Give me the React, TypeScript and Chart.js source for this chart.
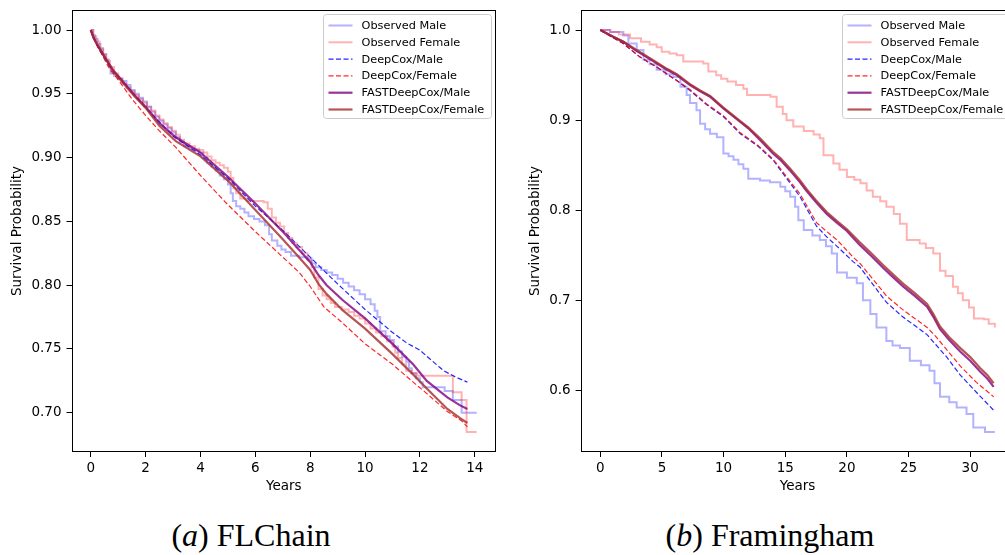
import React, { useEffect, useRef } from "react";
import { Chart, registerables } from "chart.js";

Chart.register(...registerables);

// ---------------- FLChain (panel a) ----------------
const flcObsMaleT = [0, 0.08, 0.16, 0.25, 0.35, 0.45, 0.55, 0.65, 0.72, 0.85, 1.0, 1.15, 1.3, 1.45, 1.6, 1.75, 1.9, 2.05, 2.2, 2.35, 2.5, 2.65, 2.8, 2.95, 3.1, 3.25, 3.4, 3.6, 3.8, 3.95, 4.1, 4.25, 4.4, 4.55, 4.7, 4.85, 5.0, 5.1, 5.18, 5.3, 5.45, 5.6, 5.75, 5.95, 6.15, 6.35, 6.5, 6.6, 6.8, 6.95, 7.1, 7.3, 7.6, 7.9, 8.05, 8.2, 8.4, 8.6, 8.8, 9.0, 9.2, 9.4, 9.6, 9.8, 10.0, 10.2, 10.35, 10.45, 10.55, 10.75, 10.9, 11.05, 11.2, 11.35, 11.5, 11.6, 11.7, 11.85, 12.0, 12.1, 12.9, 13.2, 13.52, 14.07];
const flcObsMaleS = [1, 0.996, 0.993, 0.989, 0.985, 0.981, 0.977, 0.972, 0.966, 0.964, 0.962, 0.96, 0.957, 0.953, 0.95, 0.947, 0.944, 0.94, 0.936, 0.932, 0.929, 0.926, 0.923, 0.92, 0.916, 0.912, 0.909, 0.907, 0.906, 0.904, 0.9, 0.896, 0.893, 0.89, 0.886, 0.883, 0.879, 0.872, 0.866, 0.862, 0.86, 0.857, 0.854, 0.852, 0.85, 0.847, 0.84, 0.835, 0.831, 0.828, 0.826, 0.823, 0.822, 0.821, 0.817, 0.814, 0.812, 0.81, 0.808, 0.805, 0.802, 0.799, 0.796, 0.793, 0.789, 0.785, 0.78, 0.775, 0.764, 0.76, 0.757, 0.752, 0.748, 0.744, 0.74, 0.735, 0.731, 0.727, 0.724, 0.72, 0.717, 0.71, 0.7, 0.7];

const flcObsFemT = [0, 0.1, 0.2, 0.32, 0.45, 0.57, 0.7, 0.85, 1.0, 1.15, 1.3, 1.45, 1.6, 1.75, 1.9, 2.05, 2.2, 2.35, 2.5, 2.65, 2.8, 2.95, 3.1, 3.25, 3.4, 3.6, 3.8, 3.95, 4.1, 4.25, 4.4, 4.55, 4.7, 4.85, 5.0, 5.1, 5.2, 5.3, 5.45, 5.7, 6.3, 6.45, 6.6, 6.75, 6.9, 7.05, 7.2, 7.35, 7.5, 7.7, 7.9, 8.05, 8.15, 8.3, 8.45, 8.6, 8.75, 8.9, 9.15, 9.4, 9.6, 9.8, 10.0, 10.2, 10.4, 10.6, 10.8, 11.0, 11.1, 11.2, 11.35, 11.5, 11.7, 11.9, 13.2, 13.52, 13.7, 14.07];
const flcObsFemS = [1, 0.995, 0.991, 0.986, 0.981, 0.976, 0.971, 0.966, 0.962, 0.958, 0.955, 0.952, 0.949, 0.946, 0.943, 0.94, 0.937, 0.933, 0.93, 0.927, 0.924, 0.921, 0.918, 0.914, 0.911, 0.909, 0.907, 0.906, 0.904, 0.901, 0.898, 0.896, 0.894, 0.892, 0.889, 0.884, 0.876, 0.872, 0.868, 0.866, 0.865, 0.86, 0.853, 0.849, 0.846, 0.841, 0.837, 0.833, 0.83, 0.825, 0.82, 0.814, 0.806, 0.797, 0.792, 0.789, 0.786, 0.783, 0.781, 0.779, 0.776, 0.774, 0.77, 0.766, 0.763, 0.76, 0.756, 0.752, 0.747, 0.743, 0.738, 0.733, 0.731, 0.729, 0.716, 0.71, 0.685, 0.685];

const flcDcMaleT = [0, 0.25, 0.5, 0.8, 1.3, 2.0, 3.0, 4.0, 5.0, 6.0, 7.0, 8.0, 9.0, 10.0, 11.0, 11.5, 12.0, 12.86, 13.3, 13.73];
const flcDcMaleS = [1, 0.987, 0.978, 0.968, 0.956, 0.939, 0.917, 0.902, 0.884, 0.862, 0.843, 0.822, 0.801, 0.781, 0.763, 0.755, 0.749, 0.733, 0.728, 0.724];

const flcDcFemT = [0, 0.2, 0.45, 0.7, 1.0, 1.5, 2.0, 2.5, 3.1, 4.0, 5.0, 6.0, 7.0, 7.6, 8.0, 8.5, 9.2, 10.0, 11.0, 11.7, 12.2, 13.0, 13.5, 13.73];
const flcDcFemS = [1, 0.989, 0.979, 0.969, 0.961, 0.946, 0.933, 0.921, 0.908, 0.886, 0.863, 0.842, 0.822, 0.81, 0.799, 0.783, 0.77, 0.754, 0.738, 0.725, 0.716, 0.701, 0.694, 0.689];

const flcFastT = [0, 0.1, 0.25, 0.5, 0.8, 1.2, 1.6, 2.0, 2.5, 3.1, 4.0, 5.0, 6.0, 7.0, 7.5, 8.0, 8.3, 8.6, 9.2, 10.0, 11.0, 11.75, 12.25, 13.0, 13.45, 13.73];
const flcFastMaleS = [1, 0.994, 0.988, 0.979, 0.969, 0.959, 0.949, 0.94, 0.927, 0.916, 0.904, 0.885, 0.864, 0.842, 0.83, 0.818, 0.808, 0.8, 0.788, 0.774, 0.754, 0.738, 0.725, 0.712, 0.706, 0.703];
const flcFastFemS = [1, 0.994, 0.988, 0.979, 0.968, 0.958, 0.948, 0.939, 0.925, 0.913, 0.901, 0.882, 0.859, 0.836, 0.824, 0.812, 0.801, 0.793, 0.78, 0.766, 0.746, 0.73, 0.719, 0.703, 0.696, 0.692];

// ---------------- Framingham (panel b) ----------------
const frmObsMaleT = [0, 0.8, 1.87, 2.27, 2.95, 3.5, 4.0, 4.57, 5.3, 5.92, 6.5, 7.0, 7.27, 7.8, 8.09, 8.5, 8.9, 9.45, 9.98, 10.4, 10.8, 11.2, 11.6, 12.0, 12.95, 13.76, 14.6, 15.0, 15.4, 15.8, 16.06, 16.5, 17.2, 17.8, 18.3, 18.77, 19.2, 20.0, 20.8, 21.3, 21.9, 22.4, 23.2, 23.7, 24.3, 25.1, 26.0, 26.7, 27.1, 27.55, 28.3, 28.9, 29.7, 30.25, 31.2, 32.0];
const frmObsMaleS = [1, 0.998, 0.994, 0.985, 0.978, 0.967, 0.962, 0.956, 0.951, 0.948, 0.937, 0.928, 0.919, 0.911, 0.896, 0.89, 0.885, 0.881, 0.863, 0.86, 0.856, 0.851, 0.846, 0.835, 0.833, 0.831, 0.826, 0.821, 0.815, 0.804, 0.789, 0.778, 0.772, 0.767, 0.76, 0.752, 0.731, 0.725, 0.719, 0.7, 0.685, 0.67, 0.655, 0.65, 0.647, 0.633, 0.628, 0.622, 0.608, 0.593, 0.587, 0.581, 0.574, 0.559, 0.554, 0.554];

const frmObsFemT = [0, 0.8, 1.5, 2.41, 3.3, 4.0, 4.57, 4.98, 5.6, 6.2, 6.73, 8.35, 8.76, 9.4, 9.8, 10.3, 11.0, 11.6, 11.9, 13.8, 14.3, 14.8, 15.1, 15.65, 16.5, 17.3, 17.8, 18.1, 18.9, 19.4, 20.0, 20.6, 21.1, 21.6, 22.1, 22.7, 23.2, 23.8, 24.3, 24.85, 25.9, 26.4, 27.0, 27.55, 28.0, 28.6, 29.0, 29.4, 29.9, 30.3, 31.1, 31.5, 32.0];
const frmObsFemS = [1, 0.998, 0.995, 0.991, 0.987, 0.984, 0.981, 0.976, 0.974, 0.972, 0.965, 0.963, 0.954, 0.95, 0.946, 0.943, 0.939, 0.935, 0.928, 0.926, 0.915, 0.907, 0.9, 0.893, 0.888, 0.884, 0.88, 0.861, 0.852, 0.845, 0.837, 0.834, 0.83, 0.822, 0.815, 0.81, 0.804, 0.796, 0.785, 0.767, 0.763, 0.758, 0.752, 0.733, 0.727, 0.715, 0.708, 0.7, 0.692, 0.68, 0.679, 0.674, 0.67];

const frmDcMaleT = [0, 1.0, 1.87, 3.22, 4.57, 6.2, 7.27, 8.63, 9.98, 11.35, 12.7, 14.0, 15.4, 16.2, 17.55, 18.4, 19.2, 20.5, 21.06, 22.2, 23.2, 24.5, 25.5, 26.5, 27.2, 28.1, 29.2, 30.5, 31.9];
const frmDcMaleS = [1, 0.992, 0.985, 0.97, 0.959, 0.944, 0.933, 0.917, 0.904, 0.885, 0.872, 0.856, 0.83, 0.815, 0.782, 0.77, 0.76, 0.743, 0.737, 0.716, 0.698, 0.682, 0.672, 0.662, 0.651, 0.637, 0.617, 0.598, 0.578];

const frmDcFemT = [0, 1.0, 1.87, 3.22, 4.57, 6.2, 7.27, 8.63, 9.98, 11.35, 12.7, 14.0, 15.4, 16.2, 17.55, 18.4, 19.2, 20.5, 21.06, 22.2, 23.2, 24.5, 25.5, 26.5, 27.2, 28.6, 29.2, 30.5, 31.9];
const frmDcFemS = [1, 0.992, 0.985, 0.97, 0.959, 0.944, 0.934, 0.918, 0.905, 0.886, 0.873, 0.857, 0.832, 0.818, 0.786, 0.776, 0.767, 0.748, 0.741, 0.722, 0.705, 0.69, 0.68, 0.67, 0.66, 0.637, 0.627, 0.609, 0.593];

const frmFastT = [0, 1.0, 1.87, 2.8, 3.76, 4.57, 5.4, 6.2, 7.27, 8.1, 8.9, 9.98, 11.35, 12.0, 12.95, 14.0, 14.6, 15.4, 16.2, 16.7, 17.5, 18.36, 19.2, 20.0, 21.0, 22.0, 22.95, 23.8, 24.6, 25.5, 26.5, 27.0, 27.55, 28.3, 29.2, 30.0, 30.8, 31.4, 31.9];
const frmFastMaleS = [1, 0.993, 0.987, 0.978, 0.97, 0.963, 0.956, 0.95, 0.939, 0.932, 0.926, 0.913, 0.898, 0.891, 0.878, 0.863, 0.856, 0.844, 0.831, 0.822, 0.809, 0.796, 0.786, 0.777, 0.762, 0.749, 0.736, 0.725, 0.715, 0.705, 0.693, 0.682, 0.668, 0.656, 0.643, 0.633, 0.621, 0.613, 0.604];
const frmFastFemS = [1, 0.993, 0.987, 0.979, 0.971, 0.964, 0.957, 0.951, 0.94, 0.933, 0.927, 0.914, 0.899, 0.892, 0.88, 0.865, 0.858, 0.846, 0.833, 0.824, 0.811, 0.798, 0.788, 0.779, 0.765, 0.752, 0.739, 0.728, 0.718, 0.708, 0.696, 0.685, 0.671, 0.659, 0.647, 0.637, 0.625, 0.617, 0.608];

// ---------------- ticks & labels ----------------
const flcXTicks = [0, 2, 4, 6, 8, 10, 12, 14];
const flcYTicks = [0.7, 0.75, 0.8, 0.85, 0.9, 0.95, 1.0];
const frmXTicks = [0, 5, 10, 15, 20, 25, 30];
const frmYTicks = [0.6, 0.7, 0.8, 0.9, 1.0];

const seriesLabels = ["Observed Male", "Observed Female", "DeepCox/Male", "DeepCox/Female", "FASTDeepCox/Male", "FASTDeepCox/Female"];
const xTitle = "Years";
const yTitle = "Survival Probability";

const seriesStyles = [
  { color: "rgba(0,0,255,0.3)", width: 2, dash: [] as number[], stepped: true },
  { color: "rgba(255,0,0,0.3)", width: 2, dash: [] as number[], stepped: true },
  { color: "rgba(0,0,255,0.85)", width: 1.2, dash: [5, 2.5], stepped: false },
  { color: "rgba(255,0,0,0.85)", width: 1.2, dash: [5, 2.5], stepped: false },
  { color: "rgba(128,0,128,0.8)", width: 2.2, dash: [] as number[], stepped: false },
  { color: "rgba(165,42,42,0.8)", width: 2.2, dash: [] as number[], stepped: false },
];

const FONT = "DejaVu Sans";

function toPoints(t: number[], s: number[]) {
  return t.map((x, i) => ({ x, y: s[i] }));
}

function paddedRange(ts: number[][], ss: number[][]) {
  const allT = ts.flat();
  const allS = ss.flat();
  const tmin = Math.min(...allT), tmax = Math.max(...allT);
  const smin = Math.min(...allS), smax = Math.max(...allS);
  const mt = (tmax - tmin) * 0.05, ms = (smax - smin) * 0.05;
  return { xmin: tmin - mt, xmax: tmax + mt, ymin: smin - ms, ymax: smax + ms };
}

const mplPlugin = {
  id: "mplFrameLegend",
  afterDatasetsDraw(chart: any) {
    const { ctx, chartArea: a } = chart;
    ctx.save();
    ctx.strokeStyle = "#000";
    ctx.lineWidth = 1;
    const l = Math.round(a.left) + 0.5, t = Math.round(a.top) + 0.5;
    const r = Math.round(a.right) - 0.5, b = Math.round(a.bottom) - 0.5;
    ctx.strokeRect(l, t, r - l, b - t);
    const bw = 168, bh = 104;
    const bx = Math.round(a.right - 5 - bw) + 0.5, by = Math.round(a.top + 4) + 0.5;
    ctx.beginPath();
    if (ctx.roundRect) ctx.roundRect(bx, by, bw, bh, 3);
    else ctx.rect(bx, by, bw, bh);
    ctx.fillStyle = "rgba(255,255,255,0.8)";
    ctx.fill();
    ctx.strokeStyle = "#cccccc";
    ctx.lineWidth = 1;
    ctx.stroke();
    ctx.font = `11.3px "${FONT}"`;
    ctx.textBaseline = "middle";
    ctx.textAlign = "left";
    chart.data.datasets.forEach((ds: any, i: number) => {
      const y = by + 11 + i * 16.8;
      ctx.beginPath();
      ctx.setLineDash(ds.borderDash || []);
      ctx.strokeStyle = ds.borderColor;
      ctx.lineWidth = ds.borderWidth;
      ctx.moveTo(bx + 5, y);
      ctx.lineTo(bx + 29, y);
      ctx.stroke();
      ctx.setLineDash([]);
      ctx.fillStyle = "#000";
      ctx.fillText(ds.label, bx + 38, y + 0.5);
    });
    ctx.restore();
  },
};

function buildConfig(
  ts: number[][],
  ss: number[][],
  xTicks: number[],
  yTicks: number[],
  yDec: number,
  yAxisWidth: number,
  padRight: number,
  yTitlePad: number
): any {
  const r = paddedRange(ts, ss);
  const tickFont = { family: FONT, size: 13.5 };
  return {
    type: "line",
    data: {
      datasets: seriesLabels.map((label, i) => ({
        label,
        data: toPoints(ts[i], ss[i]),
        borderColor: seriesStyles[i].color,
        borderWidth: seriesStyles[i].width,
        borderDash: seriesStyles[i].dash,
        stepped: seriesStyles[i].stepped,
        pointRadius: 0,
        tension: 0,
        fill: false,
        order: seriesLabels.length - 1 - i,
      })),
    },
    options: {
      responsive: false,
      animation: false,
      devicePixelRatio: 1,
      events: [],
      layout: { padding: { left: 0, top: 10, right: padRight, bottom: 0 } },
      plugins: { legend: { display: false }, tooltip: { enabled: false } },
      scales: {
        x: {
          type: "linear",
          min: r.xmin,
          max: r.xmax,
          afterBuildTicks: (sc: any) => {
            sc.ticks = xTicks.map((v) => ({ value: v }));
          },
          afterFit: (sc: any) => {
            sc.height = 48;
            sc.paddingLeft = 0;
            sc.paddingRight = 0;
          },
          ticks: { autoSkip: false, maxRotation: 0, padding: 3, color: "#000", font: tickFont, callback: (v: any) => String(v) },
          grid: { display: true, drawOnChartArea: false, drawTicks: true, tickLength: 5, color: "#000", lineWidth: 1 },
          border: { display: false },
          title: { display: true, text: xTitle, color: "#000", font: tickFont, padding: { top: 0, bottom: 5 } },
        },
        y: {
          type: "linear",
          min: r.ymin,
          max: r.ymax,
          afterBuildTicks: (sc: any) => {
            sc.ticks = yTicks.map((v) => ({ value: v }));
          },
          afterFit: (sc: any) => {
            sc.width = yAxisWidth;
            sc.paddingTop = 0;
            sc.paddingBottom = 0;
          },
          ticks: { autoSkip: false, padding: 5, color: "#000", font: tickFont, callback: (v: any) => Number(v).toFixed(yDec) },
          grid: { display: true, drawOnChartArea: false, drawTicks: true, tickLength: 5, color: "#000", lineWidth: 1 },
          border: { display: false },
          title: { display: true, text: yTitle, color: "#000", font: tickFont, padding: { top: yTitlePad, bottom: 0 } },
        },
      },
    },
    plugins: [mplPlugin],
  };
}

const capStyle = (cx: number): React.CSSProperties => ({
  position: "absolute",
  left: cx - 200,
  width: 400,
  top: 519,
  textAlign: "center",
  fontFamily: '"Liberation Serif", serif',
  fontSize: 32,
  lineHeight: "32px",
  color: "#000",
  whiteSpace: "nowrap",
});

export default function App() {
  const refA = useRef<HTMLCanvasElement>(null);
  const refB = useRef<HTMLCanvasElement>(null);

  useEffect(() => {
    const ca = new Chart(
      refA.current as HTMLCanvasElement,
      buildConfig(
        [flcObsMaleT, flcObsFemT, flcDcMaleT, flcDcFemT, flcFastT, flcFastT],
        [flcObsMaleS, flcObsFemS, flcDcMaleS, flcDcFemS, flcFastMaleS, flcFastFemS],
        flcXTicks, flcYTicks, 2, 71.5, 24, 9
      )
    );
    const cb = new Chart(
      refB.current as HTMLCanvasElement,
      buildConfig(
        [frmObsMaleT, frmObsFemT, frmDcMaleT, frmDcFemT, frmFastT, frmFastT],
        [frmObsMaleS, frmObsFemS, frmDcMaleS, frmDcFemS, frmFastMaleS, frmFastFemS],
        frmXTicks, frmYTicks, 1, 60.6, 5.4, 7
      )
    );
    return () => {
      ca.destroy();
      cb.destroy();
    };
  }, []);

  return (
    <div style={{ position: "fixed", left: 0, top: 0, width: 1005, height: 555, overflow: "hidden", background: "#fff" }}>
      <canvas ref={refA} width={520} height={500} style={{ position: "absolute", left: 0, top: 0, width: 520, height: 500 }} />
      <canvas ref={refB} width={500} height={500} style={{ position: "absolute", left: 520, top: 0, width: 500, height: 500 }} />
      <div style={capStyle(251)}>
        (<i>a</i>) FLChain
      </div>
      <div style={capStyle(770)}>
        (<i>b</i>) Framingham
      </div>
    </div>
  );
}
